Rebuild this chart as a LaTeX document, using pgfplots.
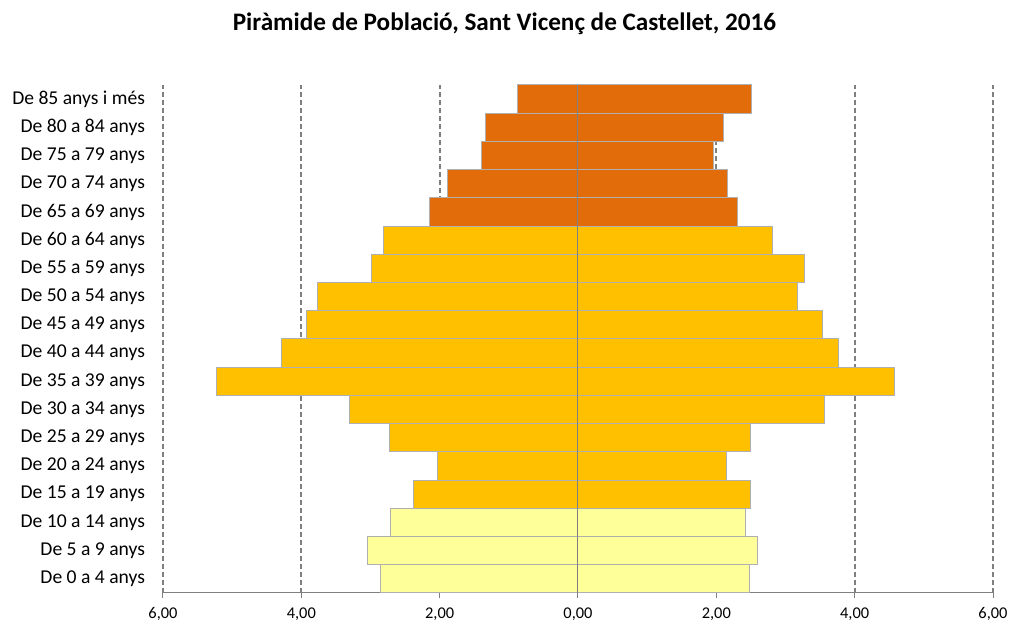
\documentclass[border=0pt]{standalone}
\usepackage{fontspec}
\setmainfont{Carlito}
\usepackage{pgfplots}
\pgfplotsset{compat=1.18}

\definecolor{oldage}{HTML}{E36C0A}
\definecolor{workage}{HTML}{FFC000}
\definecolor{youngage}{HTML}{FFFF99}
\definecolor{baredge}{HTML}{B0B0B0}
\definecolor{gridgray}{HTML}{808080}

\begin{document}
\begin{tikzpicture}
	\begin{axis}[
		scale only axis,
		width=622.5pt,
		height=381pt,
		xbar,
		bar width=1,
		bar shift=0pt,
		xmin=-6, xmax=6,
		ymin=-0.5, ymax=17.5,
		axis lines*=left,
		y axis line style={draw=none},
		x axis line style={gridgray, line width=0.75pt},
		xtick={-6,-4,-2,0,2,4,6},
		xticklabels={{6,00},{4,00},{2,00},{0,00},{2,00},{4,00},{6,00}},
		x tick style={gridgray, line width=0.75pt},
		tick align=outside,
		major tick length=4pt,
		ytick={0,...,17},
		yticklabels={De 0 a 4 anys, De 5 a 9 anys, De 10 a 14 anys, De 15 a 19 anys,
			De 20 a 24 anys, De 25 a 29 anys, De 30 a 34 anys, De 35 a 39 anys,
			De 40 a 44 anys, De 45 a 49 anys, De 50 a 54 anys, De 55 a 59 anys,
			De 60 a 64 anys, De 65 a 69 anys, De 70 a 74 anys, De 75 a 79 anys,
			De 80 a 84 anys, De 85 anys i més},
		y tick style={draw=none},
		yticklabel style={anchor=east, xshift=-6pt, font=\fontsize{14.7}{16}\selectfont},
		xticklabel style={font=\fontsize{12.3}{14}\selectfont, yshift=-3.5pt},
		xmajorgrids,
		grid style={gridgray, line width=1.5pt, dash pattern=on 4pt off 2pt},
		title={Piràmide de Població, Sant Vicenç de Castellet, 2016},
		title style={at={(0.4114,1.104)}, anchor=center, yshift=0pt,
			font=\bfseries\fontsize{18.9}{22}\selectfont},
	]

	% left side (negative values)
	\addplot[fill=youngage, draw=baredge, line width=0.75pt] coordinates {
		(-2.86,0) (-3.05,1) (-2.71,2)
	};
	\addplot[fill=workage, draw=baredge, line width=0.75pt] coordinates {
		(-2.38,3) (-2.03,4) (-2.73,5) (-3.31,6) (-5.22,7)
		(-4.28,8) (-3.93,9) (-3.76,10) (-2.99,11) (-2.81,12)
	};
	\addplot[fill=oldage, draw=baredge, line width=0.75pt] coordinates {
		(-2.15,13) (-1.88,14) (-1.39,15) (-1.34,16) (-0.87,17)
	};

	% right side
	\addplot[fill=youngage, draw=baredge, line width=0.75pt] coordinates {
		(2.48,0) (2.60,1) (2.42,2)
	};
	\addplot[fill=workage, draw=baredge, line width=0.75pt] coordinates {
		(2.49,3) (2.14,4) (2.49,5) (3.56,6) (4.57,7)
		(3.77,8) (3.53,9) (3.17,10) (3.27,11) (2.81,12)
	};
	\addplot[fill=oldage, draw=baredge, line width=0.75pt] coordinates {
		(2.30,13) (2.16,14) (1.96,15) (2.11,16) (2.51,17)
	};

	% vertical axis at zero, over the bars
	\draw[gridgray, line width=0.75pt] (axis cs:0,-0.5) -- (axis cs:0,17.5);
	\end{axis}
	\pgfresetboundingbox
	\path[use as bounding box] ([xshift=-122.25pt,yshift=-24.75pt]current axis.south west)
		rectangle ([xshift=12pt,yshift=63.75pt]current axis.north east);
\end{tikzpicture}
\end{document}
